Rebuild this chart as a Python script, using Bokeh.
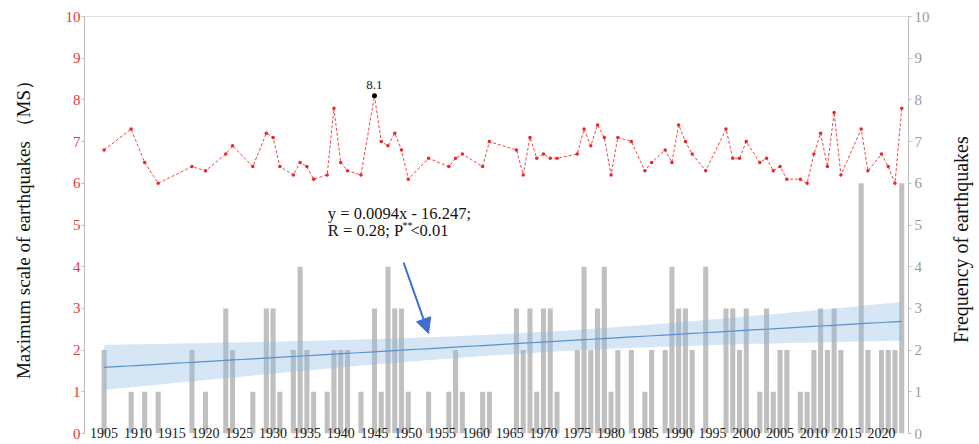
import math
import numpy as np
from bokeh.plotting import figure
from bokeh.layouts import row
from bokeh.core.properties import value
from bokeh.models import (LinearAxis, FixedTicker, Span, Arrow, NormalHead, Label,
                          ColumnDataSource, Band)
from bokeh.embed import file_html
from bokeh.resources import INLINE

# ---------------- data ----------------
years = [1905, 1909, 1911, 1913, 1918, 1920, 1923, 1924, 1927, 1929, 1930, 1931, 1933,
         1934, 1935, 1936, 1938, 1939, 1940, 1941, 1943, 1945, 1946, 1947, 1948, 1949,
         1950, 1953, 1956, 1957, 1958, 1961, 1962, 1966, 1967, 1968, 1969, 1970, 1971,
         1972, 1975, 1976, 1977, 1978, 1979, 1980, 1981, 1983, 1985, 1986, 1988, 1989,
         1990, 1991, 1992, 1994, 1997, 1998, 1999, 2000, 2002, 2003, 2004, 2005, 2006,
         2008, 2009, 2010, 2011, 2012, 2013, 2014, 2017, 2018, 2020, 2021, 2022, 2023]
frequency = [2, 1, 1, 1, 2, 1, 3, 2, 1, 3, 3, 1, 2,
             4, 2, 1, 1, 2, 2, 2, 1, 3, 1, 4, 3, 3,
             1, 1, 1, 2, 1, 1, 1, 3, 2, 3, 1, 3, 3,
             1, 2, 4, 2, 3, 4, 1, 2, 2, 1, 2, 2, 4,
             3, 3, 2, 4, 3, 3, 2, 3, 1, 3, 1, 2, 2,
             1, 1, 2, 3, 2, 3, 2, 6, 2, 2, 2, 2, 6]
magnitude = [6.8, 7.3, 6.5, 6.0, 6.4, 6.3, 6.7, 6.9, 6.4, 7.2, 7.1, 6.4, 6.2,
             6.5, 6.4, 6.1, 6.2, 7.8, 6.5, 6.3, 6.2, 8.1, 7.0, 6.9, 7.2, 6.8,
             6.1, 6.6, 6.4, 6.6, 6.7, 6.4, 7.0, 6.8, 6.2, 7.1, 6.6, 6.7, 6.6,
             6.6, 6.7, 7.3, 6.9, 7.4, 7.1, 6.2, 7.1, 7.0, 6.3, 6.5, 6.8, 6.5,
             7.4, 7.0, 6.7, 6.3, 7.3, 6.6, 6.6, 7.0, 6.5, 6.6, 6.3, 6.4, 6.1,
             6.1, 6.0, 6.7, 7.2, 6.4, 7.7, 6.2, 7.3, 6.3, 6.7, 6.4, 6.0, 7.8]
x_ticks = [1905, 1910, 1915, 1920, 1925, 1930, 1935, 1940, 1945, 1950, 1955, 1960,
           1965, 1970, 1975, 1980, 1985, 1990, 1995, 2000, 2005, 2010, 2015, 2020]
y_ticks = [0, 1, 2, 3, 4, 5, 6, 7, 8, 9, 10]
peak_year = 1945
peak_value = 8.1
left_title = "Maximum scale of earthquakes （MS）"
right_title = "Frequency of earthquakes"
eq_line1 = "y = 0.0094x - 16.247;"
eq_line2a = "R = 0.28; P"
eq_line2b = "**"
eq_line2c = "<0.01"

# ---------------- regression fit (computed from the data) ----------------
xa = np.array(years, dtype=float)
ya = np.array(frequency, dtype=float)
n = len(xa)
slope, intercept = np.polyfit(xa, ya, 1)
resid = ya - (slope * xa + intercept)
s = np.sqrt(np.sum(resid ** 2) / (n - 2))
sxx = np.sum((xa - xa.mean()) ** 2)
t95 = 1.992
xf = np.linspace(xa.min(), xa.max(), 100)
yf = slope * xf + intercept
se = s * np.sqrt(1.0 / n + (xf - xa.mean()) ** 2 / sxx)
band_src = ColumnDataSource(dict(x=xf, lower=yf - t95 * se, upper=yf + t95 * se, y=yf))

FONT = "Liberation Serif"
RED = "#e5393b"

p = figure(width=940, height=444, output_backend="svg", toolbar_location=None,
           x_range=(1902.1, 2024.0), y_range=(0, 10),
           min_border_left=84, min_border_right=32, min_border_top=16, min_border_bottom=11)
p.grid.visible = False
p.outline_line_color = None
p.background_fill_color = "white"

# bars
p.vbar(x=years, top=frequency, width=0.75, bottom=0, fill_color="#c0c0c0", line_color=None)

# confidence band + trend line
band = Band(base="x", lower="lower", upper="upper", source=band_src,
            fill_color="#8ab8e0", fill_alpha=0.35, line_color=None)
p.add_layout(band)
p.line("x", "y", source=band_src, line_color="#3f7fc0", line_width=1.2)

# magnitude line
p.line(years, magnitude, line_color="#f04545", line_width=1, line_dash="3 2")
p.scatter(years, magnitude, size=3.5, fill_color="#e8262b", line_color=None)
p.scatter([peak_year], [peak_value], size=5, fill_color="black", line_color=None)
p.text([peak_year], [peak_value], text=[str(peak_value)], text_align="center",
       text_baseline="bottom", y_offset=-7, text_font_size="13px",
       text_font=value(FONT), text_color="#222222")

# top border
p.add_layout(Span(location=10, dimension="width", line_color="#bdbdbd", line_width=1))

# axes
p.xaxis.ticker = FixedTicker(ticks=x_ticks)
p.xaxis.axis_line_color = None
p.xaxis.major_tick_line_color = None
p.xaxis.minor_tick_line_color = None
p.xaxis.major_tick_out = 0
p.xaxis.major_tick_in = 0
p.xaxis.major_label_standoff = -6
p.xaxis.major_label_text_font = FONT
p.xaxis.major_label_text_font_size = "14px"
p.xaxis.major_label_text_color = "#1a1a1a"

ly = p.yaxis[0]
ly.ticker = FixedTicker(ticks=y_ticks)
ly.axis_line_color = "#bdbdbd"
ly.major_tick_line_color = "#bdbdbd"
ly.major_tick_out = 3
ly.major_tick_in = 0
ly.minor_tick_line_color = None
ly.major_label_standoff = 1
ly.major_label_text_font = FONT
ly.major_label_text_font_size = "15px"
ly.major_label_text_color = RED
ly.axis_label = left_title
ly.axis_label_text_font = FONT
ly.axis_label_text_font_style = "normal"
ly.axis_label_text_font_size = "19px"
ly.axis_label_text_color = "#111111"
ly.axis_label_standoff = 29

ry = LinearAxis(ticker=FixedTicker(ticks=y_ticks))
ry.axis_line_color = "#bdbdbd"
ry.major_tick_line_color = "#bdbdbd"
ry.major_tick_out = 3
ry.major_tick_in = 0
ry.minor_tick_line_color = None
ry.major_label_standoff = 3
ry.major_label_text_font = FONT
ry.major_label_text_font_size = "15px"
ry.major_label_text_color = "#9a9a9a"
p.add_layout(ry, "right")

# annotation text
common = dict(text_font=FONT, text_color="#111111", text_baseline="middle", text_align="left")
p.add_layout(Label(x=1938.1, y=5.28, text=eq_line1, text_font_size="16.5px", **common))
p.add_layout(Label(x=1938.1, y=4.87, text=eq_line2a, text_font_size="16.5px", **common))
p.add_layout(Label(x=1949.15, y=5.0, text=eq_line2b, text_font_size="10px", **common))
p.add_layout(Label(x=1950.3, y=4.87, text=eq_line2c, text_font_size="16.5px", **common))

# arrow
p.add_layout(Arrow(end=NormalHead(size=15, fill_color="#3d6fd1", line_color="#3d6fd1"),
                   x_start=1949.3, y_start=4.10, x_end=1953.0, y_end=2.40,
                   line_color="#3d6fd1", line_width=2))

# right-hand title strip (text reads bottom-to-top like the reference)
p2 = figure(width=39, height=444, output_backend="svg", toolbar_location=None,
            x_range=(0, 1), y_range=(0, 1), x_axis_type=None, y_axis_type=None,
            min_border=0)
p2.outline_line_color = None
p2.grid.visible = False
p2.text(x=[0.52], y=[0.465], text=[right_title], angle=math.pi / 2,
        text_align="center", text_baseline="middle", text_font=value(FONT),
        text_font_size="20px", text_color="#111111")

layout = row(p, p2, spacing=0)
open("out.html", "w").write(file_html(layout, INLINE))
